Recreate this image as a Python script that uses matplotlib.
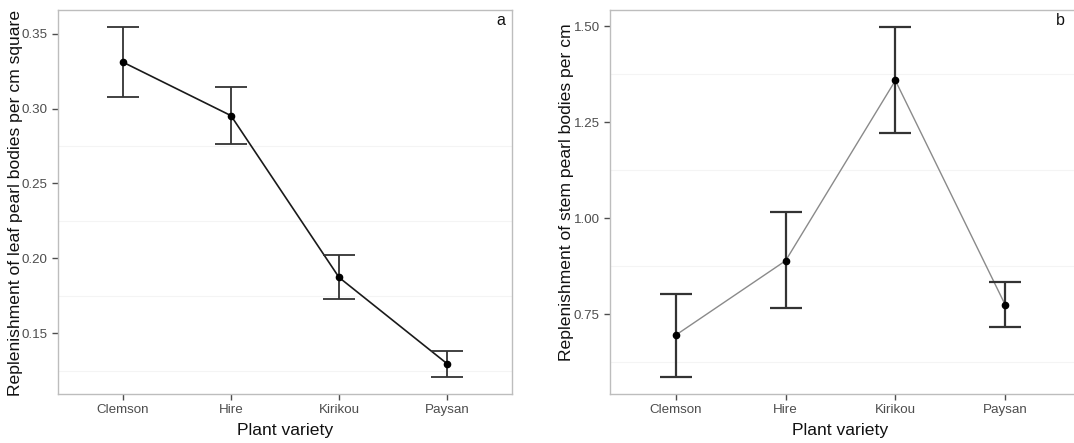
import matplotlib
matplotlib.use("Agg")
import matplotlib.pyplot as plt

plt.rcParams['font.family'] = ['Liberation Sans', 'DejaVu Sans']

varieties = ["Clemson", "Hire", "Kirikou", "Paysan"]

leaf_mean = [0.331, 0.2953, 0.1873, 0.1297]
leaf_upper = [0.3543, 0.3142, 0.202, 0.1382]
leaf_lower = [0.3076, 0.2764, 0.1727, 0.1209]

stem_mean = [0.696, 0.8896, 1.359, 0.775]
stem_upper = [0.803, 1.0164, 1.4974, 0.833]
stem_lower = [0.586, 0.7656, 1.2214, 0.717]

leaf_ticks = [0.15, 0.20, 0.25, 0.30, 0.35]
leaf_minor = [0.125, 0.175, 0.225, 0.275]
stem_ticks = [0.75, 1.00, 1.25, 1.50]
stem_minor = [0.625, 0.875, 1.125, 1.375]

W, H = 1074, 443
fig = plt.figure(figsize=(W / 100, H / 100), dpi=100)


def panel(rect, means, upper, lower, ticks, minor, ylim, ylabel, tag, tag_x,
          ylab_xy, xlab_x, line_color, line_w, err_color, err_w):
    l, t, r, b = rect
    ax = fig.add_axes([l / W, 1 - b / H, (r - l) / W, (b - t) / H])
    x = list(range(len(varieties)))
    for m in minor:
        ax.axhline(m, color="#f4f4f4", lw=0.8, zorder=0)
    ax.plot(x, means, color=line_color, lw=line_w, zorder=2)
    yerr = [[m - lo for m, lo in zip(means, lower)],
            [u - m for m, u in zip(means, upper)]]
    ax.errorbar(x, means, yerr=yerr, fmt="none", ecolor=err_color,
                elinewidth=err_w, capsize=11.5, capthick=err_w, zorder=3)
    ax.plot(x, means, "o", color="black", ms=4.5, zorder=4)
    ax.set_xlim(-0.6, 3.6)
    ax.set_ylim(*ylim)
    ax.set_xticks(x)
    ax.set_xticklabels(varieties)
    ax.set_yticks(ticks)
    ax.set_yticklabels([f"{v:.2f}" for v in ticks])
    ax.tick_params(axis="both", colors="#4d4d4d", labelcolor="#4d4d4d",
                   labelsize=9.6, length=4, width=1)
    for s in ax.spines.values():
        s.set_color("#bdbdbd")
        s.set_linewidth(1)
    ax.set_xlabel("Plant variety", fontsize=12.6, color="#111111")
    ax.xaxis.set_label_coords((xlab_x - l) / (r - l), (b - 430) / (b - t))
    ax.xaxis.label.set_va("center")
    ax.set_ylabel(ylabel, fontsize=12.6, color="#111111")
    ax.yaxis.set_label_coords((ylab_xy[0] - l) / (r - l),
                              (b - ylab_xy[1]) / (b - t))
    ax.yaxis.label.set_va("center")
    fig.text(tag_x / W, 1 - 13 / H, tag, ha="left", va="top",
             fontsize=11.5, color="#111111")
    return ax


panel((58, 10, 512, 394), leaf_mean, leaf_upper, leaf_lower, leaf_ticks,
      leaf_minor, (0.1095, 0.3658),
      "Replenishment of leaf pearl bodies per cm square", "a", 496,
      (16, 202.5), 285, "#1a1a1a", 1.2, "#333333", 1.3)

ax2 = panel((610, 10, 1080, 394), stem_mean, stem_upper, stem_lower,
            stem_ticks, stem_minor, (0.5425, 1.5425),
            "Replenishment of stem pearl bodies per cm", "b", 1056,
            (567, 192.5), 840, "#8a8a8a", 1.0, "#333333", 1.6)
ax2.set_xlim(-0.6, 3.6 + (1080 - 1071) / 109.7)

fig.savefig("out.png", dpi=100)
